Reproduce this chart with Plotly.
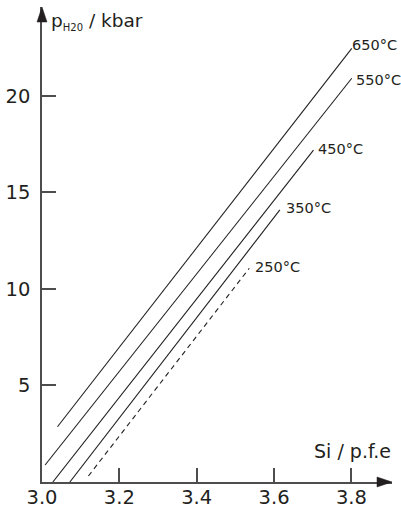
import plotly.graph_objects as go

# Data: straight isotherms (Si p.f.e vs p_H2O kbar)
temps = ["650°C", "550°C", "450°C", "350°C", "250°C"]
si_start = [3.040, 3.008, 3.028, 3.072, 3.120]
si_end = [3.801, 3.801, 3.702, 3.615, 3.536]
p_start = [2.86, 0.88, 0.0, 0.0, 0.31]
p_end = [22.46, 20.91, 17.19, 14.09, 11.07]
dashed = [False, False, False, False, True]

label_x = [3.802, 3.812, 3.714, 3.631, 3.551]
label_y = [22.63, 20.82, 17.27, 14.19, 11.13]

x_ticks = [3.0, 3.2, 3.4, 3.6, 3.8]
x_tick_text = ["3.0", "3.2", "3.4", "3.6", "3.8"]
y_ticks = [5, 10, 15, 20]
y_tick_text = ["5", "10", "15", "20"]

x_range = [3.0, 3.905]
y_range = [0.0, 24.6]

FONT = "DejaVu Sans"
TXT = "#231f20"
AXC = "#4d4d4d"

fig = go.Figure()
for i, t in enumerate(temps):
    fig.add_trace(go.Scatter(
        x=[si_start[i], si_end[i]], y=[p_start[i], p_end[i]],
        mode="lines",
        line=dict(color="#231f20", width=1.1, dash="5px,4px" if dashed[i] else "solid"),
        showlegend=False, hoverinfo="skip", cliponaxis=False,
    ))
    fig.add_annotation(x=label_x[i], y=label_y[i], text=t, showarrow=False,
                       xanchor="left", yanchor="middle",
                       font=dict(family=FONT, size=14.5, color=TXT),
                       borderpad=0, borderwidth=0)

fig.update_layout(
    width=401, height=508,
    margin=dict(l=42, r=9, t=7, b=26, autoexpand=False),
    paper_bgcolor="white", plot_bgcolor="white",
    font=dict(family=FONT, color=TXT),
    xaxis=dict(range=x_range, showgrid=False, zeroline=False, automargin=False,
               showline=True, linecolor=AXC, linewidth=1.5,
               ticks="inside", ticklen=14, tickwidth=1.5, tickcolor=AXC,
               tickvals=x_ticks, ticktext=x_tick_text,
               tickfont=dict(family=FONT, size=19.5, color=TXT),
               ticklabelstandoff=-3),
    yaxis=dict(range=y_range, showgrid=False, zeroline=False, automargin=False,
               showline=True, linecolor=AXC, linewidth=1.5,
               ticks="inside", ticklen=14, tickwidth=1.5, tickcolor=AXC,
               tickvals=y_ticks, ticktext=y_tick_text,
               tickfont=dict(family=FONT, size=19.5, color=TXT),
               ticklabelstandoff=6),
)

# Arrowheads at the axis ends
fig.add_shape(type="path", xref="paper", yref="paper",
              xsizemode="pixel", ysizemode="pixel", xanchor=1, yanchor=0,
              path="M 0 0 L -15 5 L -15 -5 Z",
              fillcolor=TXT, line=dict(color=TXT, width=0.5))
fig.add_shape(type="path", xref="paper", yref="paper",
              xsizemode="pixel", ysizemode="pixel", xanchor=0, yanchor=1,
              path="M 0 0 L -5 -15 L 5 -15 Z",
              fillcolor=TXT, line=dict(color=TXT, width=0.5))

# Axis titles
fig.add_annotation(xref="paper", yref="paper", x=0.027, y=0.9705,
                   xanchor="left", yanchor="middle", showarrow=False,
                   text='p<sub><span style="font-size:10px">H20</span></sub> / kbar',
                   font=dict(family=FONT, size=18.5, color=TXT),
                   borderpad=0, borderwidth=0)
fig.add_annotation(xref="paper", yref="paper", x=0.997, y=0.0653,
                   xanchor="right", yanchor="middle", showarrow=False,
                   text="Si / p.f.e",
                   font=dict(family=FONT, size=19, color=TXT),
                   borderpad=0, borderwidth=0)

fig.write_html("out.html", config={"displayModeBar": False},
               post_script="document.body.style.margin='0px';document.body.style.padding='0px';")
